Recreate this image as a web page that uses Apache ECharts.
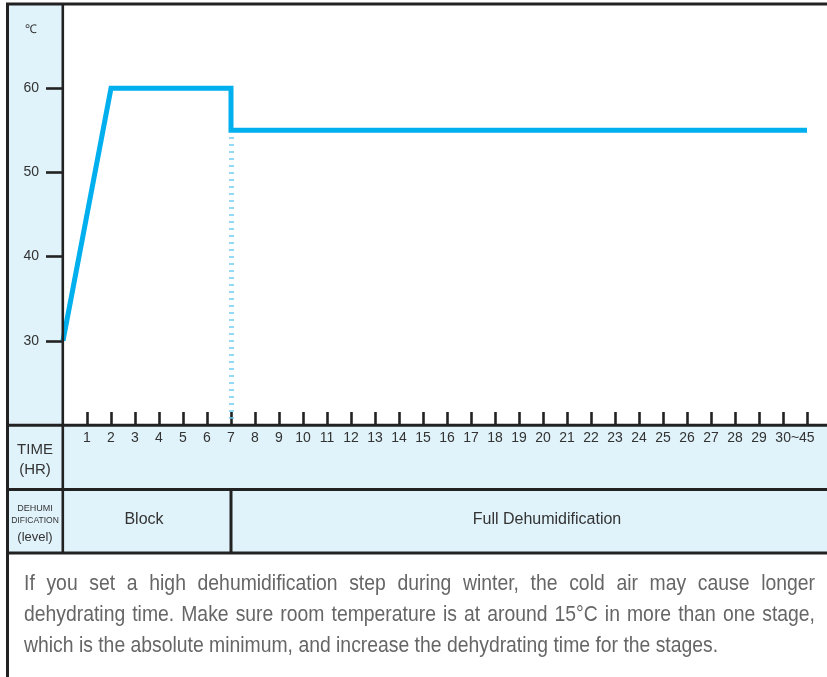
<!DOCTYPE html>
<html>
<head>
<meta charset="utf-8">
<script src="https://cdn.jsdelivr.net/npm/echarts@6/dist/echarts.min.js"></script>
<style>
html,body{margin:0;padding:0;background:#fff;}
#chart{width:827px;height:677px;}
</style>
</head>
<body>
<div id="chart"></div>
<script>
// ---- data ----
const timeHr = [0, 2, 7, 7, 31];
const tempC = [30, 60, 60, 55, 55];
const yTickValues = [30, 40, 50, 60];
const xTickValues = [1,2,3,4,5,6,7,8,9,10,11,12,13,14,15,16,17,18,19,20,21,22,23,24,25,26,27,28,29,30,31];
const xLabelValues = [1,2,3,4,5,6,7,8,9,10,11,12,13,14,15,16,17,18,19,20,21,22,23,24,25,26,27,28,29,30.5];
const xLabelTexts = ['1','2','3','4','5','6','7','8','9','10','11','12','13','14','15','16','17','18','19','20','21','22','23','24','25','26','27','28','29','30~45'];
const changeHour = 7;
const levelNames = ['Block', 'Full Dehumidification'];
const noteLines = [
  'If you set a high dehumidification step during winter, the cold air may cause longer',
  'dehydrating time. Make sure room temperature is at around 15°C in more than one stage,',
  'which is the absolute minimum, and increase the dehydrating time for the stages.'
];

const FONT = '"Liberation Sans", Arial, sans-serif';
const DARK = '#222';
const FILL = '#e0f2fa';

const chart = echarts.init(document.getElementById('chart'), null, {renderer: 'canvas'});

// layout helpers for the note paragraph
const ctx = document.createElement('canvas').getContext('2d');
const noteSize = 22, noteSx = 0.88;
ctx.font = noteSize + 'px "Liberation Sans"';
const noteLeft = 24, noteRight = 815;
const noteY = [584, 615, 646];
const noteEls = [];
noteLines.forEach((line, li) => {
  const words = line.split(' ');
  const ws = words.map(w => ctx.measureText(w).width * noteSx);
  const sum = ws.reduce((a, b) => a + b, 0);
  const justify = li < noteLines.length - 1;
  const gap = justify ? (noteRight - noteLeft - sum) / (words.length - 1) : ctx.measureText(' ').width * noteSx;
  let x = noteLeft;
  words.forEach((w, i) => {
    noteEls.push({
      type: 'text', x: x, y: noteY[li], scaleX: noteSx, z: 50, silent: true,
      style: {text: w, fill: '#666', font: noteSize + 'px ' + FONT, align: 'left', verticalAlign: 'middle'}
    });
    x += ws[i] + gap;
  });
});

function hline(y, x1, x2, w) {
  return {type: 'line', z: 100, silent: true, shape: {x1: x1, y1: y, x2: x2, y2: y}, style: {stroke: DARK, lineWidth: w || 3}};
}
function vline(x, y1, y2, w) {
  return {type: 'line', z: 100, silent: true, shape: {x1: x, y1: y1, x2: x, y2: y2}, style: {stroke: DARK, lineWidth: w || 3}};
}
function txt(t, x, y, size, color) {
  return {type: 'text', x: x, y: y, z: 50, silent: true,
    style: {text: t, fill: color || '#333', font: size + 'px ' + FONT, align: 'center', verticalAlign: 'middle'}};
}

const sepX = 63 + changeHour * 24;

const graphics = [
  {type: 'rect', z: -10, silent: true, shape: {x: 7, y: 4, width: 56, height: 421}, style: {fill: FILL}},
  {type: 'rect', z: -10, silent: true, shape: {x: 7, y: 425, width: 820, height: 128}, style: {fill: FILL}},
  hline(4, 6, 827),
  vline(7.5, 3, 677),
  vline(62.8, 4, 553, 2.6),
  hline(425.3, 7, 827),
  hline(489.5, 7, 827),
  hline(553, 7, 827),
  vline(231, 489, 553),
  txt('℃', 31, 30, 12),
  txt('TIME', 35, 450, 15),
  txt('(HR)', 35, 470, 15),
  txt('DEHUMI', 35, 509, 9),
  txt('DIFICATION', 35, 521, 8.5),
  txt('(level)', 35, 537, 13),
  txt(levelNames[0], 144, 520, 16),
  txt(levelNames[1], 547, 520, 16)
].concat(noteEls);

const option = {
  animation: false,
  backgroundColor: '#fff',
  grid: {left: 63, right: 0, top: 4, bottom: 252, containLabel: false},
  xAxis: {
    type: 'value', min: 0, max: 764 / 24, interval: 1,
    axisLine: {show: false},
    splitLine: {show: false},
    axisTick: {show: true, inside: true, length: 13, customValues: xTickValues, lineStyle: {color: DARK, width: 2.6}},
    axisLabel: {
      show: true, margin: 6, customValues: xLabelValues, color: '#333', fontSize: 14, fontFamily: FONT,
      formatter: function (v) {
        const i = xLabelValues.indexOf(v);
        return i >= 0 ? xLabelTexts[i] : '';
      }
    }
  },
  yAxis: {
    type: 'value', min: 20, max: 70, interval: 10,
    axisLine: {show: false},
    splitLine: {show: false},
    axisTick: {show: true, length: 17, customValues: yTickValues, lineStyle: {color: DARK, width: 2.6}},
    axisLabel: {show: true, margin: 24, customValues: yTickValues, color: '#333', fontSize: 14, fontFamily: FONT}
  },
  series: [{
    type: 'line',
    data: timeHr.map((t, i) => [t, tempC[i]]),
    symbol: 'none',
    clip: false,
    lineStyle: {color: '#00b0ee', width: 5, join: 'miter'},
    markLine: {
      silent: true, symbol: 'none', label: {show: false},
      lineStyle: {color: '#6fcdf2', width: 5, type: [1.5, 5.5]},
      data: [[{coord: [changeHour, tempC[3]]}, {coord: [changeHour, 20]}]]
    },
    z: 5
  }],
  graphic: graphics
};
chart.setOption(option);
</script>
</body>
</html>
